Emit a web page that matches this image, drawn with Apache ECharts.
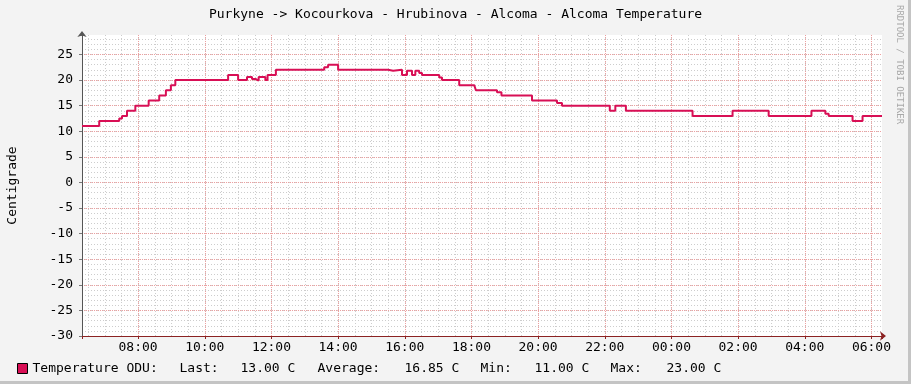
<!DOCTYPE html>
<html>
<head>
<meta charset="utf-8">
<script src="https://cdn.jsdelivr.net/npm/echarts@6/dist/echarts.min.js"></script>
<style>
html,body{margin:0;padding:0;background:#f3f3f3;}
#wrap{position:relative;width:911px;height:384px;overflow:hidden;}
#chart{position:absolute;left:0;top:0;width:911px;height:384px;}
.bR{position:absolute;right:0;top:0;width:3px;height:384px;background:#c4c4c4;}
.bB{position:absolute;left:0;bottom:0;width:911px;height:3px;background:#c4c4c4;}
</style>
</head>
<body>
<div id="wrap"><div id="chart"></div><div class="bR"></div><div class="bB"></div></div>
<script>
// ---- data ----
const chartTitle = 'Purkyne -> Kocourkova - Hrubinova - Alcoma - Alcoma Temperature';
const seriesName = 'Temperature ODU';
const yName = 'Centigrade';
const times = ['06:19','06:50','07:26','07:31','07:40','07:55','08:19','08:38','08:50','08:59',
  '09:07','10:42','11:00','11:16','11:25','11:32','11:37','11:49','11:53','12:08',
  '13:35','13:42','14:00','15:30','15:39','15:55','16:04','16:13','16:19','16:26',
  '16:31','17:02','17:07','17:38','18:05','18:08','18:46','18:54','19:49','20:34',
  '20:43','22:09','22:19','22:38','00:38','01:50','02:55','04:12','04:37','04:43',
  '05:26','05:44','06:19'];
const temps = [11,12,12.5,13,14,15,16,17,18,19,
  20,21,20,20.6,20.2,19.9,20.6,20,21,22,
  22.5,23,22,21.8,22,21,21.8,21,21.8,21.4,
  21,20.5,20,19,18.7,18,17.6,17,16,15.5,
  15,14,15,14,13,14,13,14,13.4,13,
  12,13,13];
const statLast = 13.00, statAvg = 16.85, statMin = 11.00, statMax = 23.00;
const yMin = -30, yMax = 28.8;

// ---- build ----
let day = 0, prev = -1;
const hours = times.map(t => {
  const [hh, mm] = t.split(':').map(Number);
  const h = hh + mm / 60;
  if (h < prev) day += 24;
  prev = h;
  return h + day;
});
const xMin = hours[0], xMax = hours[hours.length - 1];
const lineColor = '#d80f55';
const mono = 'DejaVu Sans Mono';
const majorGrid = '#eda0a0';
const minorGrid = '#cdcdcd';
const pad = n => (n < 10 ? '0' : '') + n;
const fmtStat = v => v.toFixed(2) + ' C';

const chart = echarts.init(document.getElementById('chart'), null, {renderer: 'canvas'});
chart.setOption({
  animation: false,
  backgroundColor: 'transparent',
  title: {
    text: chartTitle, left: 'center', top: 8, padding: 0,
    textStyle: {fontFamily: mono, fontSize: 13, fontWeight: 'normal', color: '#000'}
  },
  grid: {left: 82, right: 29, top: 35, bottom: 48, show: true, backgroundColor: '#ffffff', borderWidth: 0,
    containLabel: false, outerBoundsMode: 'none'},
  legend: {
    left: 17, top: 362, padding: 0, itemWidth: 10, itemHeight: 10,
    data: [{name: seriesName, icon: 'rect', itemStyle: {color: lineColor, borderColor: '#000', borderWidth: 1}}],
    formatter: name => `{n|${name}:}{l|Last:}{v1|${fmtStat(statLast)}}{a|Average:}{v2|${fmtStat(statAvg)}}{m|Min:}{v3|${fmtStat(statMin)}}{x|Max:}{v4|${fmtStat(statMax)}}`,
    textStyle: {
      fontFamily: mono, fontSize: 13, color: '#000',
      rich: {
        n: {fontFamily: mono, fontSize: 13, width: 147},
        l: {fontFamily: mono, fontSize: 13, width: 61},
        v1: {fontFamily: mono, fontSize: 13, width: 77},
        a: {fontFamily: mono, fontSize: 13, width: 87},
        v2: {fontFamily: mono, fontSize: 13, width: 76},
        m: {fontFamily: mono, fontSize: 13, width: 54},
        v3: {fontFamily: mono, fontSize: 13, width: 76},
        x: {fontFamily: mono, fontSize: 13, width: 56},
        v4: {fontFamily: mono, fontSize: 13}
      }
    }
  },
  graphic: [{
    type: 'text', x: 899, y: 5, rotation: -Math.PI / 2,
    style: {text: 'RRDTOOL / TOBI OETIKER', fill: '#a8a8a8', font: '9px "DejaVu Sans Mono"', align: 'left', verticalAlign: 'middle'}
  }],
  xAxis: [{
    type: 'value', min: xMin, max: xMax, splitNumber: 12, minInterval: 2, maxInterval: 2,
    position: 'bottom', z: 1,
    axisLine: {show: true, onZero: false, lineStyle: {color: '#8b2222', width: 1}, symbol: ['none', 'arrow'], symbolSize: [7, 6], symbolOffset: [0, 4]},
    axisTick: {show: true, length: 3, lineStyle: {color: '#8b2222'}},
    axisLabel: {
      margin: 5, fontFamily: mono, fontSize: 13, color: '#000',
      formatter: v => {
        const r = Math.round(v);
        if (Math.abs(v - r) > 1e-6 || r % 2 !== 0) return '';
        return pad(r % 24) + ':00';
      }
    },
    splitLine: {show: true, showMinLine: false, showMaxLine: false, lineStyle: {color: majorGrid, type: [1, 1], width: 1}}
  }, {
    type: 'value', min: xMin, max: xMax, splitNumber: 48, minInterval: 0.5, maxInterval: 0.5,
    position: 'top', z: 0,
    axisLine: {show: false, onZero: false}, axisTick: {show: false}, axisLabel: {show: false},
    splitLine: {show: true, showMinLine: false, showMaxLine: false, lineStyle: {color: minorGrid, type: [1, 2], width: 1}}
  }],
  yAxis: [{
    type: 'value', min: yMin, max: yMax, interval: 5, position: 'left', z: 1,
    name: yName, nameLocation: 'middle', nameGap: 63, nameRotate: 90,
    nameTextStyle: {fontFamily: mono, fontSize: 13, color: '#000'},
    axisLine: {show: true, onZero: false, lineStyle: {color: '#555', width: 1}, symbol: ['none', 'arrow'], symbolSize: [7, 6], symbolOffset: [0, 4]},
    axisTick: {show: true, length: 3, lineStyle: {color: '#777'}},
    axisLabel: {
      margin: 9, fontFamily: mono, fontSize: 13, color: '#000',
      formatter: v => (Math.abs(v % 5) < 1e-6 ? String(v) : '')
    },
    splitLine: {show: true, showMinLine: false, showMaxLine: false, lineStyle: {color: majorGrid, type: [1, 1], width: 1}}
  }, {
    type: 'value', min: yMin, max: yMax, interval: 1, position: 'right', z: 0,
    axisLine: {show: false, onZero: false}, axisTick: {show: false}, axisLabel: {show: false},
    splitLine: {show: true, showMinLine: false, showMaxLine: false, lineStyle: {color: minorGrid, type: [1, 2], width: 1}}
  }],
  series: [{
    name: seriesName, type: 'line', xAxisIndex: 0, yAxisIndex: 0,
    data: hours.map((h, i) => [h, temps[i]]),
    step: 'end', showSymbol: false, symbol: 'none',
    lineStyle: {color: lineColor, width: 2},
    itemStyle: {color: lineColor},
    z: 3
  }]
});
</script>
</body>
</html>
